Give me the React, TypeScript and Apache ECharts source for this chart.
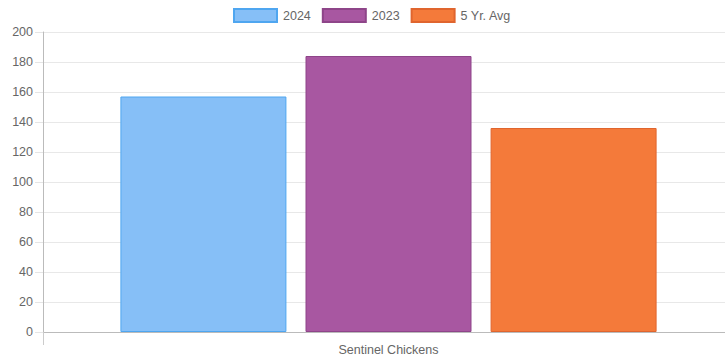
import React, { useEffect, useRef } from "react";
import * as echarts from "echarts";

const categories = ["Sentinel Chickens"];
const seriesNames = ["2024", "2023", "5 Yr. Avg"];
const values2024 = [157];
const values2023 = [184];
const valuesAvg = [136];
const fillColors = ["#86BFF7", "#A857A1", "#F47A3A"];
const borderColors = ["#4FA6F0", "#8E4589", "#E0652E"];

export default function App() {
  const ref = useRef<HTMLDivElement>(null);
  useEffect(() => {
    if (!ref.current) return;
    const chart = echarts.init(ref.current, null, { renderer: "svg" });
    const data = [values2024, values2023, valuesAvg];
    chart.setOption({
      animation: false,
      textStyle: { fontFamily: "Liberation Sans, Arial, sans-serif" },
      legend: {
        top: 8,
        left: 233,
        padding: 0,
        itemWidth: 43,
        itemHeight: 13,
        itemGap: 11,
        icon: "rect",
        textStyle: { color: "#666", fontSize: 12.5, padding: [0, 0, 0, 1] },
        data: seriesNames,
      },
      grid: { left: 43, right: 0, top: 32, bottom: 28, containLabel: false },
      xAxis: {
        type: "category",
        data: categories,
        axisLine: { show: true, lineStyle: { color: "#bbb" } },
        axisTick: { show: true, length: 13, lineStyle: { color: "#ccc" } },
        axisLabel: { color: "#666", fontSize: 12.5, margin: 11 },
        splitLine: { show: false },
      },
      yAxis: {
        type: "value",
        min: 0,
        max: 200,
        interval: 20,
        axisLine: { show: true, lineStyle: { color: "#bbb" } },
        axisTick: { show: true, length: 8, lineStyle: { color: "#e5e5e5" } },
        axisLabel: { color: "#666", fontSize: 12.5, margin: 10 },
        splitLine: { show: true, lineStyle: { color: "#e8e8e8" } },
      },
      series: seriesNames.map((name, i) => ({
        name,
        type: "bar",
        data: data[i],
        barWidth: 166,
        barGap: "11.5%",
        itemStyle: { color: fillColors[i], borderColor: borderColors[i], borderWidth: 1 },
      })),
    });
    return () => chart.dispose();
  }, []);
  return (
    <div style={{ width: 725, height: 360, position: "absolute", left: 0, top: 0, overflow: "hidden" }}>
      <div ref={ref} style={{ width: 734, height: 360 }} />
    </div>
  );
}
